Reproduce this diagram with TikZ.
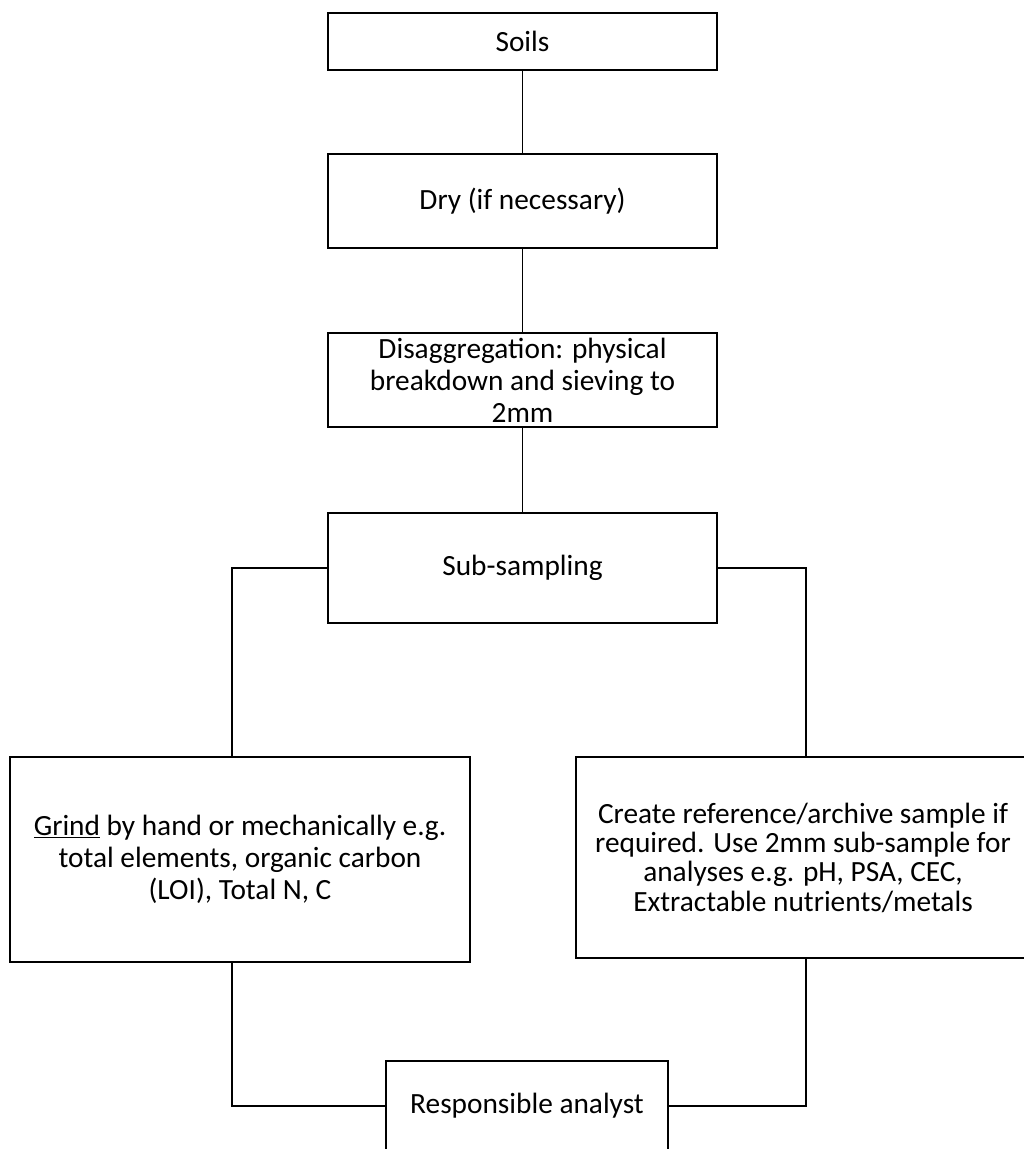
\documentclass[tikz,border=0pt]{standalone}
\usepackage{fontspec}
\setmainfont{Carlito}
\usepackage{tikz}
\usetikzlibrary{calc}
\tikzset{box/.style={draw,line width=1.3pt,align=center,inner sep=0pt,
    font=\fontsize{22}{24}\selectfont}}
\tikzset{colbox/.style={box,minimum width=291.75pt}}
\tikzset{link/.style={line width=1.3pt}}

\begin{document}
\begin{tikzpicture}[x=0.75pt,y=-0.75pt]
% Units in pixels of the 1024 x 1149 page
\useasboundingbox (0,0) rectangle (1024,1149);

% Main column
\node[colbox,minimum height=42.75pt] (soils) at (522.5,41.5) {Soils};
\node[colbox,minimum height=70.5pt] (dry) at (522.5,201) {Dry (if necessary)};
\node[colbox,minimum height=70.5pt] (disagg) at (522.5,380)
   {Disaggregation: physical\\breakdown and sieving to\\2mm};
\node[colbox,minimum height=82.5pt] (sub) at (522.5,568) {Sub-sampling};

% Two branches
\node[box,minimum width=345pt,minimum height=153.75pt] (grind) at (240,859.5)
   {\underline{Grind} by hand or mechanically e.g.\\total elements, organic carbon\\(LOI), Total N, C};
\node[box,minimum width=340.5pt,minimum height=150.75pt,
      font=\fontsize{22}{22}\selectfont] (create) at (803,857.5)
   {Create reference/archive sample if\\required. Use 2mm sub-sample for\\analyses e.g. pH, PSA, CEC,\\Extractable nutrients/metals};

% Final step
\node[box,minimum width=211.5pt,minimum height=67.5pt] (analyst) at (527,1106)
   {Responsible analyst};

% Column links
\draw[link] (soils) -- (dry);
\draw[link] (dry) -- (disagg);
\draw[link] (disagg) -- (sub);

% Branch links
\coordinate (L) at ($(grind.north)+(-8,0)$);
\coordinate (R) at ($(create.north)+(3,0)$);
\draw[link] (sub.west) -| (L);
\draw[link] (sub.east) -| (R);
\draw[link] (L |- grind.south) |- (analyst.west);
\draw[link] (R |- create.south) |- (analyst.east);
\end{tikzpicture}
\end{document}
